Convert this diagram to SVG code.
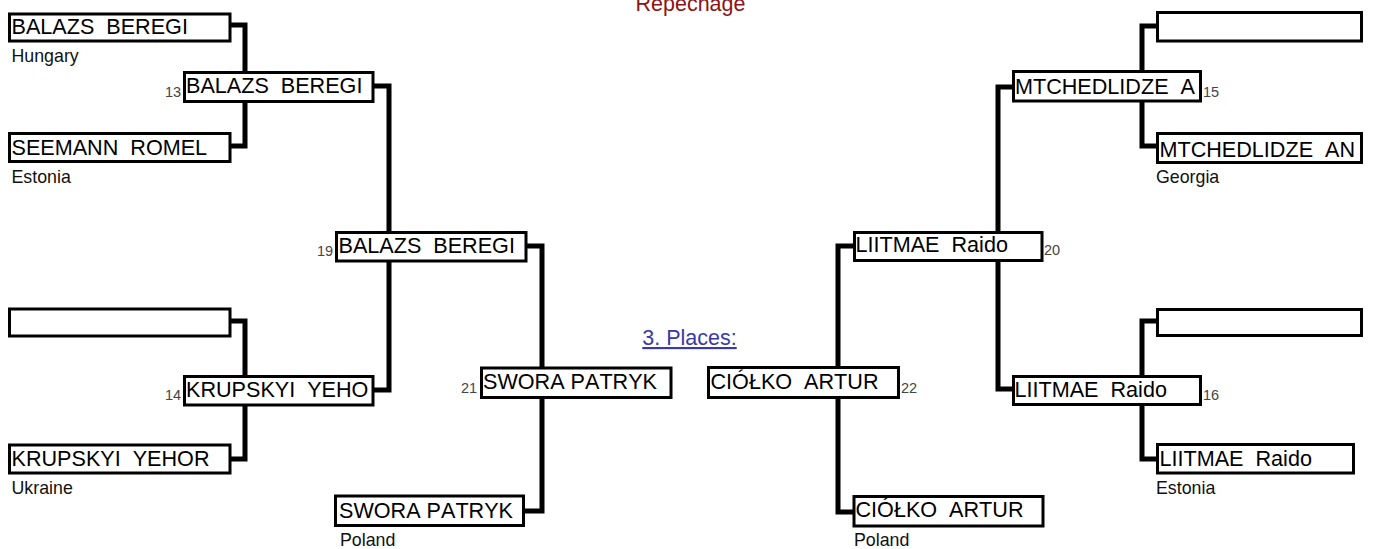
<svg xmlns="http://www.w3.org/2000/svg" width="1373" height="549" viewBox="0 0 1373 549" xml:space="preserve">
<style>
.box{fill:#fff;stroke:#000;stroke-width:3}
.nm{font-family:"Liberation Sans",Arial,sans-serif;font-size:21.6px;fill:#000;white-space:pre;font-kerning:none}
.ct{font-family:"Liberation Sans",Arial,sans-serif;font-size:17.8px;fill:#111}
.no{font-family:"Liberation Sans",Arial,sans-serif;font-size:14.5px;fill:#444}
.cn{fill:none;stroke:#000;stroke-width:5;stroke-linejoin:miter}
.ttl{font-family:"Liberation Sans",Arial,sans-serif;font-size:21.5px;text-anchor:middle}
</style>
<rect width="1373" height="549" fill="#fff"/>
<g id="connectors">
<path class="cn" d="M230,25 H245 V86"/>
<path class="cn" d="M230,146 H245 V86"/>
<path class="cn" d="M230,321 H245 V390"/>
<path class="cn" d="M230,459 H245 V390"/>
<path class="cn" d="M373,86 H389 V246"/>
<path class="cn" d="M373,390 H389 V246"/>
<path class="cn" d="M526,246 H542 V383"/>
<path class="cn" d="M523,511 H542 V383"/>
<path class="cn" d="M1158,26 H1142 V86"/>
<path class="cn" d="M1158,146 H1142 V86"/>
<path class="cn" d="M1158,321 H1142 V390"/>
<path class="cn" d="M1158,459 H1142 V390"/>
<path class="cn" d="M1014,87 H998 V246"/>
<path class="cn" d="M1014,389 H998 V246"/>
<path class="cn" d="M855,246 H838 V383"/>
<path class="cn" d="M855,512 H838 V383"/>
</g>
<g id="title-repechage"><text class="ttl" x="690.5" y="11" fill="#8c1414">Repechage</text></g>
<g id="title-places"><text class="ttl" x="689.5" y="345" fill="#3a3aa6" text-decoration="underline">3. Places:</text></g>
<g id="n-l1"><rect class="box" x="9.5" y="14" width="220.5" height="27"/><text class="nm" x="11.5" y="34">BALAZS  BEREGI</text><text class="ct" x="11.5" y="61.5">Hungary</text></g>
<g id="n-l2"><rect class="box" x="9.5" y="133.5" width="220.5" height="28"/><text class="nm" x="11.5" y="154.5">SEEMANN  ROMEL</text><text class="ct" x="11.5" y="183">Estonia</text></g>
<g id="n-l3"><rect class="box" x="9.5" y="309" width="220.5" height="27"/></g>
<g id="n-l4"><rect class="box" x="9.5" y="445" width="220.5" height="28"/><text class="nm" x="11.5" y="466">KRUPSKYI  YEHOR</text><text class="ct" x="11.5" y="494">Ukraine</text></g>
<g id="n-13"><rect class="box" x="184.5" y="72.5" width="188.5" height="29"/><text class="nm" x="186" y="93">BALAZS  BEREGI</text><text class="no" x="165" y="97">13</text></g>
<g id="n-14"><rect class="box" x="184.5" y="376.5" width="188.5" height="28.5"/><text class="nm" x="186" y="397">KRUPSKYI  YEHO</text><text class="no" x="165" y="400">14</text></g>
<g id="n-19"><rect class="box" x="336.5" y="232.5" width="189.5" height="28.5"/><text class="nm" x="338.5" y="253">BALAZS  BEREGI</text><text class="no" x="317" y="256">19</text></g>
<g id="n-21"><rect class="box" x="481.5" y="368" width="189.5" height="29.5"/><text class="nm" x="483" y="388.5">SWORA PATRYK</text><text class="no" x="461" y="393">21</text></g>
<g id="n-l5"><rect class="box" x="335.5" y="496" width="188" height="29.5"/><text class="nm" x="339" y="517.5">SWORA PATRYK</text><text class="ct" x="340" y="546">Poland</text></g>
<g id="n-22"><rect class="box" x="708.5" y="367.5" width="190" height="30"/><text class="nm" x="710.5" y="388.5">CIÓŁKO  ARTUR</text><text class="no" x="901" y="393">22</text></g>
<g id="n-r5"><rect class="box" x="854" y="496.5" width="189" height="29.5"/><text class="nm" x="855.5" y="517">CIÓŁKO  ARTUR</text><text class="ct" x="854" y="546">Poland</text></g>
<g id="n-20"><rect class="box" x="854.5" y="232.5" width="187.5" height="28"/><text class="nm" x="855.5" y="252">LIITMAE  Raido</text><text class="no" x="1044" y="255">20</text></g>
<g id="n-15"><rect class="box" x="1013.5" y="71.5" width="187" height="29.5"/><text class="nm" x="1015" y="94">MTCHEDLIDZE  A</text><text class="no" x="1203" y="97">15</text></g>
<g id="n-16"><rect class="box" x="1013.5" y="376.5" width="187" height="28"/><text class="nm" x="1014.5" y="396.5">LIITMAE  Raido</text><text class="no" x="1203" y="400">16</text></g>
<g id="n-r1"><rect class="box" x="1157.5" y="12.5" width="204" height="28.5"/></g>
<g id="n-r2"><rect class="box" x="1157.5" y="133.5" width="204" height="29"/><text class="nm" x="1159.5" y="157">MTCHEDLIDZE  AN</text><text class="ct" x="1156" y="183">Georgia</text></g>
<g id="n-r3"><rect class="box" x="1157.5" y="309.5" width="204" height="26"/></g>
<g id="n-r4"><rect class="box" x="1157.5" y="444.5" width="196" height="28.5"/><text class="nm" x="1159.5" y="466">LIITMAE  Raido</text><text class="ct" x="1156" y="494">Estonia</text></g>
</svg>
